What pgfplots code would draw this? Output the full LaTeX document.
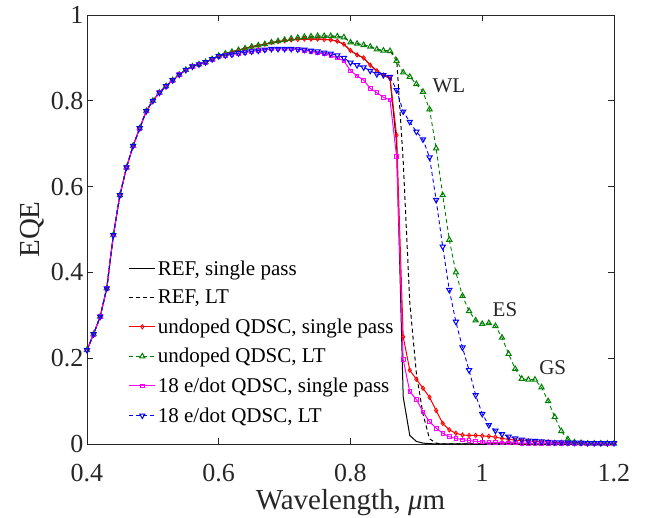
\documentclass[border=0pt]{standalone}
\usepackage{pgfplots}
\pgfplotsset{compat=1.18}
\usepackage{pgfplotstable}
\usepackage{fontspec}
\setmainfont{Liberation Serif}
\definecolor{mgreen}{rgb}{0,0.5,0}
\definecolor{mred}{rgb}{1,0,0}
\definecolor{mblue}{rgb}{0,0,1}
\definecolor{mmag}{rgb}{1,0,1}
\definecolor{axgray}{rgb}{0.15,0.15,0.15}

\pgfplotstableread{
x    refsp reflt unsp  unlt  dsp   dlt
0.40 0.219 0.219 0.219 0.219 0.219 0.219
0.41 0.256 0.256 0.256 0.256 0.256 0.256
0.42 0.297 0.297 0.297 0.297 0.297 0.297
0.43 0.363 0.363 0.363 0.363 0.363 0.363
0.44 0.487 0.487 0.487 0.487 0.487 0.487
0.45 0.580 0.580 0.580 0.580 0.580 0.580
0.46 0.645 0.645 0.645 0.645 0.645 0.645
0.47 0.695 0.695 0.695 0.695 0.695 0.695
0.48 0.736 0.736 0.736 0.736 0.736 0.736
0.49 0.776 0.776 0.776 0.776 0.776 0.776
0.50 0.800 0.800 0.800 0.800 0.800 0.800
0.51 0.819 0.819 0.819 0.819 0.819 0.819
0.52 0.834 0.834 0.834 0.834 0.834 0.834
0.53 0.848 0.848 0.848 0.848 0.848 0.848
0.54 0.861 0.861 0.861 0.861 0.861 0.861
0.55 0.872 0.872 0.872 0.872 0.872 0.872
0.56 0.880 0.880 0.880 0.880 0.880 0.880
0.57 0.885 0.885 0.885 0.885 0.885 0.885
0.58 0.890 0.890 0.890 0.890 0.890 0.890
0.59 0.897 0.897 0.897 0.897 0.897 0.897
0.60 0.905 0.905 0.905 0.905 0.904 0.904
0.61 0.910 0.910 0.910 0.910 0.906 0.906
0.62 0.914 0.914 0.914 0.914 0.908 0.908
0.63 0.918 0.918 0.918 0.918 0.911 0.911
0.64 0.922 0.922 0.922 0.922 0.913 0.913
0.65 0.926 0.926 0.926 0.926 0.915 0.915
0.66 0.929 0.929 0.929 0.929 0.917 0.917
0.67 0.932 0.932 0.932 0.932 0.919 0.919
0.68 0.936 0.936 0.936 0.936 0.921 0.921
0.69 0.938 0.939 0.938 0.939 0.921 0.921
0.70 0.940 0.942 0.940 0.942 0.921 0.921
0.71 0.942 0.945 0.942 0.945 0.921 0.921
0.72 0.943 0.947 0.943 0.947 0.920 0.920
0.73 0.944 0.949 0.944 0.949 0.918 0.919
0.74 0.944 0.950 0.944 0.950 0.915 0.917
0.75 0.944 0.951 0.944 0.951 0.912 0.915
0.76 0.943 0.951 0.943 0.951 0.909 0.912
0.77 0.942 0.951 0.942 0.951 0.906 0.910
0.78 0.939 0.950 0.939 0.950 0.900 0.906
0.79 0.932 0.948 0.932 0.948 0.893 0.900
0.80 0.917 0.936 0.917 0.936 0.870 0.889
0.81 0.907 0.933 0.907 0.933 0.858 0.883
0.82 0.900 0.930 0.900 0.930 0.848 0.878
0.83 0.883 0.926 0.883 0.926 0.829 0.870
0.84 0.870 0.920 0.870 0.920 0.819 0.862
0.85 0.860 0.917 0.860 0.917 0.808 0.860
0.86 0.852 0.916 0.852 0.916 0.802 0.856
0.87 0.700 0.900 0.720 0.893 0.670 0.825
0.88 0.110 0.660 0.250 0.866 0.197 0.775
0.89 0.020 0.330 0.172 0.856 0.122 0.751
0.90 0.006 0.165 0.151 0.839 0.104 0.728
0.91 0.002 0.070 0.130 0.821 0.075 0.710
0.92 0.001 0.012 0.109 0.780 0.052 0.668
0.93 0.000 0.002 0.078 0.689 0.037 0.569
0.94 0.000 0.000 0.048 0.580 0.025 0.460
0.95 0.000 0.000 0.033 0.476 0.017 0.359
0.96 0.000 0.000 0.025 0.400 0.013 0.285
0.97 0.000 0.000 0.021 0.345 0.010 0.225
0.98 0.000 0.000 0.020 0.310 0.008 0.172
0.99 0.000 0.000 0.020 0.288 0.006 0.114
1.00 0.000 0.000 0.019 0.280 0.005 0.070
1.01 0.000 0.000 0.018 0.282 0.004 0.044
1.02 0.000 0.000 0.016 0.275 0.004 0.031
1.03 0.000 0.000 0.013 0.248 0.003 0.023
1.04 0.000 0.000 0.011 0.210 0.003 0.017
1.05 0.000 0.000 0.009 0.175 0.003 0.013
1.06 0.000 0.000 0.008 0.152 0.002 0.010
1.07 0.000 0.000 0.007 0.150 0.002 0.008
1.08 0.000 0.000 0.006 0.150 0.002 0.007
1.09 0.000 0.000 0.005 0.132 0.002 0.006
1.10 0.000 0.000 0.005 0.100 0.002 0.005
1.11 0.000 0.000 0.004 0.063 0.002 0.004
1.12 0.000 0.000 0.004 0.030 0.002 0.004
1.13 0.000 0.000 0.003 0.011 0.002 0.003
1.14 0.000 0.000 0.003 0.004 0.001 0.003
1.15 0.000 0.000 0.003 0.002 0.001 0.003
1.16 0.000 0.000 0.002 0.001 0.001 0.002
1.17 0.000 0.000 0.002 0.001 0.001 0.002
1.18 0.000 0.000 0.002 0.001 0.001 0.002
1.19 0.000 0.000 0.002 0.001 0.001 0.002
1.20 0.000 0.000 0.002 0.001 0.001 0.002
}\eqedata

\begin{document}
\begin{tikzpicture}
\useasboundingbox (-87pt,-74pt) rectangle (570pt,444pt);
\begin{axis}[
  at={(0,0)}, anchor=south west,
  width=527pt, height=429pt, scale only axis,
  xmin=0.4, xmax=1.2, ymin=0, ymax=1,
  xtick={0.4,0.6,0.8,1,1.2},
  xticklabels={\textrm{0.4},\textrm{0.6},\textrm{0.8},\textrm{1},\textrm{1.2}},
  ytick={0,0.2,0.4,0.6,0.8,1},
  yticklabels={\textrm{0},\textrm{0.2},\textrm{0.4},\textrm{0.6},\textrm{0.8},\textrm{1}},
  tick align=inside, major tick length=6pt,
  tick label style={font=\fontsize{26}{30}\selectfont, text=axgray},
  xticklabel style={anchor=north, yshift=-17pt},
  axis line style={axgray, line width=0.9pt},
  every tick/.style={axgray, line width=0.9pt},
  xlabel={Wavelength, \textit{μ}m}, ylabel={EQE},
  label style={font=\fontsize{29}{34}\selectfont, text=axgray},
  clip=false,
  legend cell align=left,
  legend style={at={(0.079,0.433)}, anchor=north west, draw=none, fill=none,
    font=\fontsize{21}{25}\selectfont, inner sep=0pt, row sep=9.5pt,
    nodes={inner sep=2pt}},
  legend image code/.code={\draw[mark repeat=2,mark phase=2,#1] plot coordinates {(0pt,0pt) (13pt,0pt) (26pt,0pt)};},
]
\addplot[black, line width=1pt] table[x=x,y=refsp]{\eqedata};
\addlegendentry{REF, single pass}
\addplot[black, line width=1pt, dash pattern=on 4pt off 3pt] table[x=x,y=reflt]{\eqedata};
\addlegendentry{REF, LT}
\addplot[mred, line width=1pt, mark=diamond, mark size=2.2pt, mark options={solid, line width=0.8pt}] table[x=x,y=unsp]{\eqedata};
\addlegendentry{undoped QDSC, single pass}
\addplot[mgreen, line width=0.9pt, dash pattern=on 4pt off 3pt, mark=triangle, mark size=3pt, mark options={solid, line width=1pt}] table[x=x,y=unlt]{\eqedata};
\addlegendentry{undoped QDSC, LT}
\addplot[mmag, line width=1pt, mark=square, mark size=1.8pt, mark options={solid, line width=0.8pt}] table[x=x,y=dsp]{\eqedata};
\addlegendentry{18 e/dot QDSC, single pass}
\addplot[mblue, line width=0.9pt, dash pattern=on 4pt off 3pt, mark=triangle, mark size=3pt, mark options={solid, rotate=180, line width=1pt}] table[x=x,y=dlt]{\eqedata};
\addlegendentry{18 e/dot QDSC, LT}
\node[font=\fontsize{21}{25}\selectfont, text=axgray] at (axis cs:0.9495,0.834) {WL};
\node[font=\fontsize{21}{25}\selectfont, text=axgray] at (axis cs:1.0345,0.312) {ES};
\node[font=\fontsize{21}{25}\selectfont, text=axgray] at (axis cs:1.107,0.179) {GS};
\end{axis}
\end{tikzpicture}
\end{document}
